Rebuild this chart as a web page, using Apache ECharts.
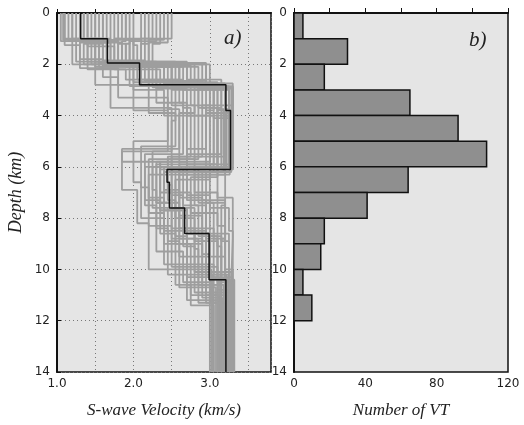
<!DOCTYPE html>
<html><head><meta charset="utf-8">
<script src="https://cdn.jsdelivr.net/npm/echarts@6.0.0/dist/echarts.min.js"></script>
<style>html,body{margin:0;padding:0;background:#fff}#c{width:524px;height:425px}</style>
</head><body><div id="c"></div>
<script>
// Best (black) S-wave velocity model: [bottom depth km, velocity km/s]
const bestModel = [[1.0,1.31],[1.95,1.66],[2.8,2.08],[3.8,3.21],[6.1,3.27],[6.6,2.44],[7.6,2.47],[8.6,2.67],[10.4,2.99],[14,3.21]];

// Grey family of tested models, estimated from the cloud: [bottom depth km, velocity km/s]
const greyModels = [
  [[1.0,1.3],[2.0,1.7],[2.8,2.1],[3.8,3.2],[6.1,3.3],[7.6,2.5],[8.6,2.7],[10.4,3.0],[14,3.22]],
  [[1.1,1.15],[1.9,1.5],[2.7,2.3],[3.7,2.9],[5.9,3.1],[7.2,2.6],[8.9,2.9],[10.1,3.1],[14,3.28]],
  [[1.2,1.8],[2.1,1.9],[3.0,2.5],[4.0,3.25],[6.3,3.2],[7.8,2.2],[9.0,2.4],[11.2,2.7],[14,3.1]],
  [[1.05,2.4],[2.0,2.2],[2.9,2.8],[3.6,3.3],[5.6,2.9],[7.0,2.8],[8.3,3.1],[10.0,3.2],[14,3.3]],
  [[1.15,1.5],[2.2,1.4],[2.6,1.9],[3.5,2.6],[5.8,2.7],[7.4,2.3],[8.8,2.5],[10.6,2.9],[14,3.15]],
  [[1.0,1.1],[1.8,1.3],[2.5,1.6],[3.3,1.8],[5.0,2.45],[6.6,2.0],[8.0,2.1],[9.8,2.4],[14,3.05]],
  [[1.25,2.0],[2.0,2.05],[2.8,2.9],[4.1,3.05],[6.2,3.28],[7.3,2.9],[8.6,3.2],[10.4,3.25],[14,3.32]],
  [[1.1,1.6],[1.95,1.8],[2.7,2.6],[3.9,2.8],[5.3,2.6],[5.8,1.85],[7.7,2.35],[9.5,2.6],[14,3.2]],
  [[1.0,1.2],[2.1,1.55],[3.0,2.0],[4.0,2.4],[6.5,3.0],[8.0,2.55],[9.2,2.8],[11.3,2.85],[14,3.18]],
  [[1.2,2.2],[1.9,2.1],[2.6,2.7],[3.8,3.15],[6.0,3.22],[6.9,2.4],[8.4,2.6],[10.2,3.05],[14,3.25]],
  [[1.1,1.35],[2.0,1.45],[2.9,2.4],[3.7,3.0],[5.5,3.15],[7.1,2.7],[8.7,3.0],[10.8,3.1],[14,3.27]],
  [[1.15,1.7],[2.05,1.65],[2.8,2.2],[4.2,2.55],[6.0,2.5],[7.5,2.15],[9.3,2.3],[10.5,2.65],[14,3.0]],
  [[1.0,2.5],[2.0,2.0],[2.75,3.0],[3.9,3.3],[6.1,3.25],[7.6,3.0],[8.5,3.25],[10.0,3.3],[14,3.3]],
  [[1.3,1.4],[2.2,1.75],[2.9,2.35],[3.6,2.75],[5.7,2.8],[7.3,2.45],[9.0,2.55],[11.0,2.75],[14,3.12]],
  [[1.05,1.9],[1.9,1.95],[2.7,2.55],[3.8,3.1],[6.2,3.18],[7.0,2.55],[8.6,2.75],[10.3,3.0],[14,3.24]],
  [[1.1,1.05],[2.0,1.2],[2.8,1.5],[3.7,1.7],[5.4,2.5],[6.9,1.85],[8.2,2.05],[10.0,2.2],[14,3.02]],
  [[1.0,1.45],[1.85,1.6],[2.65,2.15],[3.9,2.95],[6.4,3.1],[7.8,2.75],[9.1,3.1],[10.9,3.15],[14,3.3]],
  [[1.2,2.35],[2.1,2.25],[3.0,2.65],[4.0,3.2],[5.9,3.3],[7.2,3.1],[8.8,3.3],[10.4,3.28],[14,3.31]],
  [[1.1,1.25],[2.0,1.5],[2.85,1.95],[3.75,2.45],[6.0,2.6],[7.6,2.25],[8.9,2.45],[10.7,2.6],[14,3.08]],
  [[1.15,1.55],[2.05,1.85],[2.9,2.75],[3.8,3.25],[6.1,3.3],[7.5,2.65],[8.7,2.85],[10.4,3.15],[14,3.2]],
  [[1.05,2.1],[1.95,1.7],[2.7,2.45],[3.6,2.85],[5.8,3.0],[7.0,2.35],[8.4,2.5],[10.1,2.8],[14,3.14]],
  [[1.0,1.75],[2.1,2.0],[2.95,2.85],[4.1,3.3],[6.3,3.26],[7.9,2.6],[9.4,2.9],[11.3,3.0],[14,3.26]],
  [[1.25,1.1],[2.15,1.3],[2.8,1.8],[3.9,2.2],[5.2,2.55],[6.8,2.1],[8.3,2.2],[9.9,2.5],[14,3.1]],
  [[1.1,2.3],[2.0,2.15],[2.75,2.95],[3.85,3.2],[6.0,3.2],[7.4,2.85],[8.8,3.05],[10.5,3.2],[14,3.28]],
  [[1.0,1.65],[1.9,1.4],[2.6,2.05],[3.7,2.65],[5.6,2.75],[7.1,2.5],[8.5,2.65],[10.2,2.95],[14,3.22]],
  [[1.2,1.95],[2.0,1.9],[2.85,2.6],[4.0,3.0],[6.2,3.05],[7.7,2.4],[9.0,2.7],[11.1,2.9],[14,3.16]],
  [[1.1,1.35],[2.05,1.6],[2.9,2.25],[3.8,3.15],[6.05,3.28],[6.7,2.45],[7.6,2.5],[8.6,2.7],[10.35,3.0],[14,3.21]],
  [[1.05,1.2],[1.95,1.55],[2.7,2.1],[3.5,2.3],[5.5,2.65],[7.3,2.15],[8.6,2.35],[10.6,2.55],[11.4,2.75],[14,3.05]],
  [[1.15,2.45],[2.1,2.2],[2.8,2.5],[3.9,3.1],[6.1,3.15],[7.5,3.2],[8.9,3.15],[10.3,3.25],[14,3.29]],
  [[1.0,1.85],[2.0,1.75],[2.85,2.7],[3.7,3.05],[5.9,3.1],[7.4,2.3],[8.8,2.6],[10.6,2.85],[14,3.18]],
  [[1.2,1.5],[2.0,1.35],[2.7,2.0],[3.6,2.5],[5.7,2.85],[7.2,2.2],[8.5,2.4],[10.3,2.7],[14,3.12]],
  [[1.05,1.08],[1.9,1.25],[2.8,1.7],[3.8,2.0],[5.4,2.45],[6.9,2.25],[8.4,2.3],[10.2,2.45],[14,3.04]],
  [[1.1,2.15],[2.05,1.95],[2.9,2.6],[3.9,3.28],[5.9,3.05],[7.3,2.7],[8.8,2.95],[10.5,3.1],[14,3.3]],
  [[1.05,1.4],[2.0,1.8],[2.75,2.4],[3.8,3.05],[6.1,2.95],[7.6,2.6],[8.9,2.8],[11.0,2.95],[14,3.23]],
  [[1.2,1.6],[2.1,1.5],[2.95,2.3],[4.0,2.7],[5.6,3.2],[7.0,2.45],[8.7,2.55],[10.6,2.7],[11.3,2.95],[14,3.2]],
  [[1.0,2.25],[1.95,2.1],[2.85,2.95],[3.75,3.25],[6.2,3.1],[7.4,2.95],[8.8,3.2],[10.4,3.15],[14,3.27]],
  [[1.15,1.3],[2.0,1.65],[2.8,2.2],[3.7,2.85],[5.3,2.95],[6.1,2.7],[7.7,2.35],[9.1,2.65],[10.9,2.8],[14,3.15]],
  [[1.1,1.9],[2.05,1.85],[2.85,2.5],[3.85,3.3],[6.0,3.25],[7.5,2.8],[8.6,2.95],[10.4,3.2],[14,3.25]]
];

// Histogram of VT events per 1-km depth bin
const binTops = [0,1,2,3,4,5,6,7,8,9,10,11];
const vtCounts = [5,30,17,65,92,108,64,41,17,15,5,10];

function profile(m){
  const pts = []; let top = 0;
  for (const [bot, v] of m){ pts.push([v, top]); pts.push([v, bot]); top = bot; }
  return pts;
}

const tickFont = {fontFamily:'DejaVu Sans', fontSize:12, color:'#222'};
const titleFont = {fontFamily:'Liberation Serif', fontStyle:'italic', fontSize:17, color:'#222'};

const chart = echarts.init(document.getElementById('c'), null, {renderer:'canvas'});
const series = [];
greyModels.forEach(m => series.push({
  type:'line', xAxisIndex:0, yAxisIndex:0, data:profile(m), symbol:'none', silent:true,
  lineStyle:{color:'#9e9e9e', width:1.8}, z:2, animation:false
}));
series.push({type:'line', xAxisIndex:0, yAxisIndex:0, data:profile(bestModel), symbol:'none',
  lineStyle:{color:'#111', width:1.5}, z:3, animation:false});
series.push({
  type:'custom', xAxisIndex:1, yAxisIndex:1, animation:false,
  data: binTops.map((t,i)=>[vtCounts[i], t]),
  encode:{x:0, y:1},
  renderItem:(params, api)=>{
    const cnt = api.value(0), top = api.value(1);
    const p0 = api.coord([0, top]), p1 = api.coord([cnt, top+1]);
    return {type:'rect', shape:{x:p0[0], y:p0[1], width:p1[0]-p0[0], height:p1[1]-p0[1]},
      style:{fill:'#8f8f8f', stroke:'#111', lineWidth:1.5}};
  }
});

chart.setOption({
  animation:false,
  backgroundColor:'#fff',
  grid:[
    {left:57, top:13, width:214, height:359, show:true, backgroundColor:'#e5e5e5', borderColor:'#111', borderWidth:1.5},
    {left:294, top:13, width:214, height:359, show:true, backgroundColor:'#e5e5e5', borderColor:'#111', borderWidth:1.5}
  ],
  xAxis:[
    {gridIndex:0, type:'value', min:1.0, max:3.8, interval:0.5,
     axisLine:{lineStyle:{color:'#111', width:2}}, axisTick:{inside:true, length:4, lineStyle:{color:'#111'}},
     axisLabel:{...tickFont, margin:6, showMaxLabel:false, formatter:v=> (Math.abs(v-Math.round(v))<1e-6 ? v.toFixed(1) : '')},
     splitLine:{show:true, lineStyle:{color:'#777', type:[1,3], width:1}},
     name:'S-wave Velocity (km/s)', nameLocation:'middle', nameGap:30, nameTextStyle:titleFont},
    {gridIndex:1, type:'value', min:0, max:120, interval:20,
     axisLine:{lineStyle:{color:'#111', width:2}}, axisTick:{inside:true, length:5, lineStyle:{color:'#111'}},
     axisLabel:{...tickFont, margin:6, formatter:v=> (v%40===0 ? String(v) : '')},
     splitLine:{show:false},
     name:'Number of VT', nameLocation:'middle', nameGap:30, nameTextStyle:titleFont}
  ],
  yAxis:[
    {gridIndex:0, type:'value', inverse:true, min:0, max:14, interval:2,
     axisLine:{lineStyle:{color:'#111', width:2}}, axisTick:{inside:true, length:4, lineStyle:{color:'#111'}},
     axisLabel:{...tickFont, margin:7},
     splitLine:{show:true, lineStyle:{color:'#777', type:[1,3], width:1}},
     name:'Depth (km)', nameLocation:'middle', nameGap:32, nameTextStyle:{...titleFont, fontSize:18}},
    {gridIndex:1, type:'value', inverse:true, min:0, max:14, interval:2,
     axisLine:{lineStyle:{color:'#111', width:2}}, axisTick:{show:false},
     axisLabel:{...tickFont, margin:7},
     splitLine:{show:false}}
  ],
  graphic:[
    {type:'text', left:224, top:28, style:{text:'a)', font:'italic 21px "Liberation Serif"', fill:'#222'}},
    {type:'text', left:469, top:30, style:{text:'b)', font:'italic 21px "Liberation Serif"', fill:'#222'}}
  ],
  series: series
});
</script>
</body></html>
